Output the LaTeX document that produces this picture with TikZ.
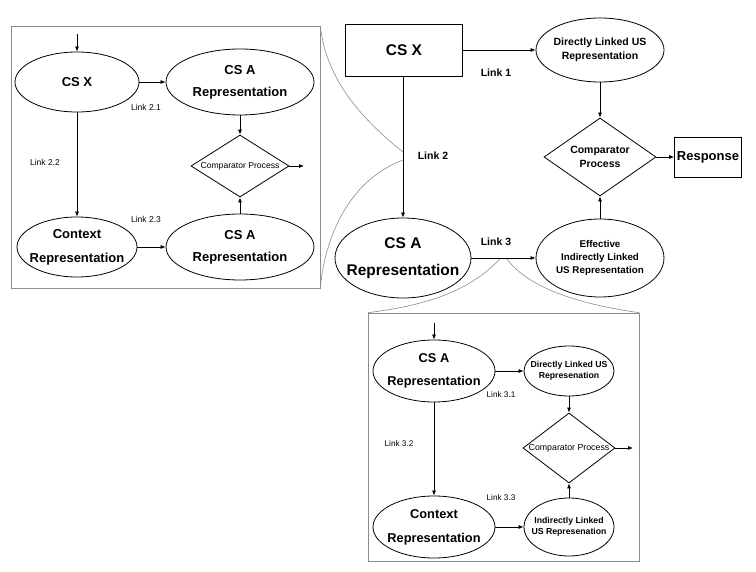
\documentclass[tikz,border=0pt]{standalone}
\usepackage{fontspec}
\setmainfont{Liberation Sans}
\usetikzlibrary{shapes.geometric,arrows.meta}
\tikzset{
  ell/.style={ellipse, draw, line width=0.8pt, inner sep=0pt},
  dia/.style={diamond, draw, line width=0.8pt, inner sep=0pt},
  boxx/.style={rectangle, draw, line width=0.8pt, inner sep=0pt, align=center},
  panel/.style={rectangle, draw=black!45, line width=0.6pt, inner sep=0pt},
  zoomline/.style={draw=black!45, line width=0.6pt},
  arr/.style={-{Latex[length=5pt,width=4pt]}, line width=0.7pt},
  lbl/.style={inner sep=0pt, font=\fontsize{8.5}{10}\selectfont},
  blbl/.style={inner sep=0pt, font=\bfseries\fontsize{10.5}{12}\selectfont},
  txt/.style={inner sep=0pt, align=center}
}
\begin{document}
\begin{tikzpicture}[x=1pt,y=-1pt]
\useasboundingbox (0,0) rectangle (756,572);

% ---------- left panel ----------
\node[panel, minimum width=309, minimum height=262] (lp) at (165.5,157) {};
\coordinate (in1) at (77,34);
\node[ell, minimum width=124, minimum height=60] (csx1) at (77,82) {};
\node[txt, font=\bfseries\fontsize{13}{22}\selectfont] (csx1t) at (csx1) {CS X};
\node[ell, minimum width=148, minimum height=66] (csa1) at (240,82) {};
\node[txt, font=\bfseries\fontsize{13}{22}\selectfont] (csa1t) at (csa1) {CS A\\Representation};
\node[dia, minimum width=98, minimum height=62] (d1) at (240,166) {};
\node[txt, font=\fontsize{8.6}{10}\selectfont] (d1t) at (d1) {Comparator Process};
\coordinate (out1) at (304,166);
\node[ell, minimum width=120, minimum height=60] (ctx1) at (77,247) {};
\node[txt, font=\bfseries\fontsize{13}{24}\selectfont] (ctx1t) at (ctx1) {Context\\Representation};
\node[ell, minimum width=148, minimum height=66] (csa2) at (240,247) {};
\node[txt, font=\bfseries\fontsize{13}{22}\selectfont] (csa2t) at (csa2) {CS A\\Representation};
\draw[arr] (in1) -- (csx1);
\draw[arr] (csx1) -- (csa1);
\draw[arr] (csa1) -- (d1);
\draw[arr] (d1) -- (out1);
\draw[arr] (csx1) -- (ctx1);
\draw[arr] (ctx1) -- (csa2);
\draw[arr] (csa2) -- (d1);
\node[lbl] (l21) at (146,107) {Link 2.1};
\node[lbl] (l22) at (45,162) {Link 2.2};
\node[lbl] (l23) at (146,219) {Link 2.3};

% ---------- main diagram ----------
\node[boxx, minimum width=117, minimum height=52, font=\bfseries\fontsize{15.5}{18}\selectfont] (csx) at (404,50) {CS X};
\node[ell, minimum width=128, minimum height=64] (dl) at (600,50) {};
\node[txt, font=\bfseries\fontsize{10.5}{14}\selectfont] (dlt) at (dl) {Directly Linked US\\Representation};
\node[dia, minimum width=112, minimum height=78] (cp) at (600,157) {};
\node[txt, font=\bfseries\fontsize{10.5}{13.5}\selectfont] (cpt) at (cp) {Comparator\\Process};
\node[boxx, minimum width=67, minimum height=40, font=\bfseries\fontsize{13}{15}\selectfont] (resp) at (708,157) {Response};
\node[ell, minimum width=136, minimum height=80] (csa) at (403,258) {};
\node[txt, font=\bfseries\fontsize{15.5}{27}\selectfont] (csat) at (csa) {CS A\\Representation};
\node[ell, minimum width=128, minimum height=78] (eff) at (600,258) {};
\node[txt, font=\bfseries\fontsize{9.8}{12.8}\selectfont] (efft) at (eff) {Effective\\Indirectly Linked\\US Representation};
\draw[arr] (csx) -- (dl);
\draw[arr] (dl) -- (cp);
\draw[arr] (cp) -- (resp);
\draw[arr] (csx.south -| csa.north) -- (csa);
\draw[arr] (csa) -- (eff);
\draw[arr] (eff) -- (cp);
\node[blbl] (l1) at (496,73) {Link 1};
\node[blbl] (l2) at (433,156) {Link 2};
\node[blbl] (l3) at (496,242) {Link 3};

% ---------- zoom lines to left panel ----------
\coordinate (z2a) at (403,152);
\coordinate (z2b) at (403,160);
\draw[zoomline] (lp.north east) .. controls (325,70) and (350,110) .. (z2a);
\draw[zoomline] (lp.south east) .. controls (325,235) and (350,180) .. (z2b);

% ---------- bottom panel ----------
\node[panel, minimum width=271, minimum height=248] (bp) at (503.5,437) {};
\coordinate (z3a) at (500,259);
\coordinate (z3b) at (507,259);
\draw[zoomline] (z3a) .. controls (470,290) and (430,305) .. (bp.north west);
\draw[zoomline] (z3b) .. controls (530,290) and (585,305) .. (bp.north east);

\coordinate (in3) at (434,323);
\node[ell, minimum width=122, minimum height=62] (csa3) at (434,371) {};
\node[txt, font=\bfseries\fontsize{12.8}{23}\selectfont] (csa3t) at (csa3) {CS A\\Representation};
\node[ell, minimum width=90, minimum height=50] (dl3) at (569,371) {};
\node[txt, font=\bfseries\fontsize{8.7}{10.5}\selectfont] (dl3t) at (dl3) {Directly Linked US\\Represenation};
\node[dia, minimum width=92, minimum height=70] (cp3) at (569,448) {};
\node[txt, font=\fontsize{8.8}{10}\selectfont] (cp3t) at (cp3) {Comparator Process};
\coordinate (out3) at (633,448);
\node[ell, minimum width=122, minimum height=62] (ctx3) at (434,527) {};
\node[txt, font=\bfseries\fontsize{12.8}{24}\selectfont] (ctx3t) at (ctx3) {Context\\Representation};
\node[ell, minimum width=90, minimum height=58] (ind3) at (569,527) {};
\node[txt, font=\bfseries\fontsize{8.7}{11}\selectfont] (ind3t) at (ind3) {Indirectly Linked\\US Represenation};
\draw[arr] (in3) -- (csa3);
\draw[arr] (csa3) -- (dl3);
\draw[arr] (dl3) -- (cp3);
\draw[arr] (cp3) -- (out3);
\draw[arr] (csa3) -- (ctx3);
\draw[arr] (ctx3) -- (ind3);
\draw[arr] (ind3) -- (cp3);
\node[lbl, font=\fontsize{8.2}{10}\selectfont] (l31) at (501,395) {Link 3.1};
\node[lbl, font=\fontsize{8.2}{10}\selectfont] (l32) at (399,444) {Link 3.2};
\node[lbl, font=\fontsize{8.2}{10}\selectfont] (l33) at (501,498) {Link 3.3};
\end{tikzpicture}
\end{document}
